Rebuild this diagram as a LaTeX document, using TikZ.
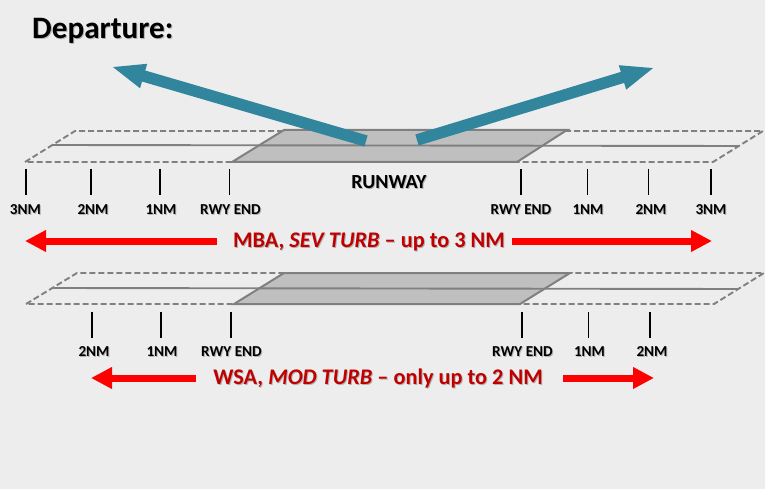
\documentclass[tikz,border=0pt]{standalone}
\usepackage{fontspec}
\setmainfont{Carlito}
\usetikzlibrary{arrows.meta}
\definecolor{bgc}{HTML}{EDEDED}
\definecolor{rwyline}{HTML}{808080}
\definecolor{rwyfill}{HTML}{BFBFBF}
\definecolor{teal}{HTML}{31859C}
\definecolor{dred}{HTML}{C00000}
\newcommand\shtext[2]{\leavevmode\rlap{\kern1pt\raisebox{-1pt}{\color{#1}#2}}#2}
\tikzset{
  x=1pt,y=-1pt,
  outline/.style={draw=rwyline,line width=1.9pt,dash pattern=on 6pt off 3pt},
  centreline/.style={draw=rwyline,line width=1.9pt},
  pavement/.style={draw=rwyline,fill=rwyfill,line width=2pt,line join=miter},
  tick/.style={draw=black,line width=1.6pt},
  nmlabel/.style={font=\fontsize{15.2}{16}\selectfont\bfseries,text=black,inner sep=0pt},
  redtext/.style={font=\fontsize{22.3}{24}\selectfont\bfseries,text=dred,inner sep=0pt},
  climb/.style={draw=teal,line width=11.5pt,-{Triangle[length=34pt,width=22.5pt]}},
  extent/.style={draw=red,line width=7pt,-{Triangle[length=21pt,width=20.5pt]}},
}
\begin{document}
\begin{tikzpicture}
\useasboundingbox[fill=bgc] (0,0) rectangle (765,489);
\node[font=\fontsize{31.2}{33}\selectfont\bfseries,anchor=west,inner sep=0pt] (title) at (32,31.5) {\shtext{black!30}{Departure:}};

% upper runway
\draw[outline] (25,162) -- (75,131) -- (763,131) -- (713,162) -- cycle;
\draw[pavement] (232,162) -- (284,130) -- (567,130) -- (517,162) -- cycle;
\draw[centreline] (53,145) -- (738,146);

% climb arrows
\coordinate (lt) at (366,141);
\coordinate (lh) at (111,66.5);
\coordinate (rt) at (417,140);
\coordinate (rh) at (655,67.5);
\draw[climb] (lt) -- (lh);
\draw[climb] (rt) -- (rh);

\node[font=\fontsize{20}{22}\selectfont\bfseries,inner sep=0pt] (rwy) at (389,182.5) {\shtext{black!30}{RUNWAY}};

% upper ticks and labels
\foreach \n/\x/\lx/\t in {a/26/25.5/3NM,b/91/93/2NM,c/160/161/1NM,d/229.5/230.5/RWY END,e/521/521/RWY END,f/587.5/588/1NM,g/648.5/651/2NM,h/711/711/3NM}{
  \coordinate (ut\n) at (\x,169);
  \coordinate (ub\n) at (\x,195);
  \draw[tick] (ut\n) -- (ub\n);
  \node[nmlabel] (ul\n) at (\lx,210) {\shtext{black!30}{\t}};
}

% upper extent
\node[redtext] (mba) at (369,242) {\shtext{black!30}{MBA, \textit{SEV TURB} – up to 3 NM}};
\coordinate (ual) at (25,241);
\coordinate (uar) at (712,241);
\draw[extent] (217,241) -- (ual);
\draw[extent] (512,241) -- (uar);

% lower runway
\draw[outline] (26,304) -- (77,273) -- (764,273) -- (714,304) -- cycle;
\draw[pavement] (234,304) -- (284,273) -- (570,273) -- (520,304) -- cycle;
\draw[centreline] (53,288) -- (738,289);

% lower ticks and labels
\foreach \n/\x/\lx/\t in {b/92/94/2NM,c/161/162/1NM,d/231/231.5/RWY END,e/522/522.5/RWY END,f/588.5/589.5/1NM,g/650/652/2NM}{
  \coordinate (lt\n) at (\x,312);
  \coordinate (lb\n) at (\x,338);
  \draw[tick] (lt\n) -- (lb\n);
  \node[nmlabel] (ll\n) at (\lx,352) {\shtext{black!30}{\t}};
}

% lower extent
\node[redtext] (wsa) at (378,379) {\shtext{black!30}{WSA, \textit{MOD TURB} – only up to 2 NM}};
\coordinate (lal) at (91,378);
\coordinate (lar) at (654,378);
\draw[extent] (196,378) -- (lal);
\draw[extent] (563,378) -- (lar);
\end{tikzpicture}
\end{document}
